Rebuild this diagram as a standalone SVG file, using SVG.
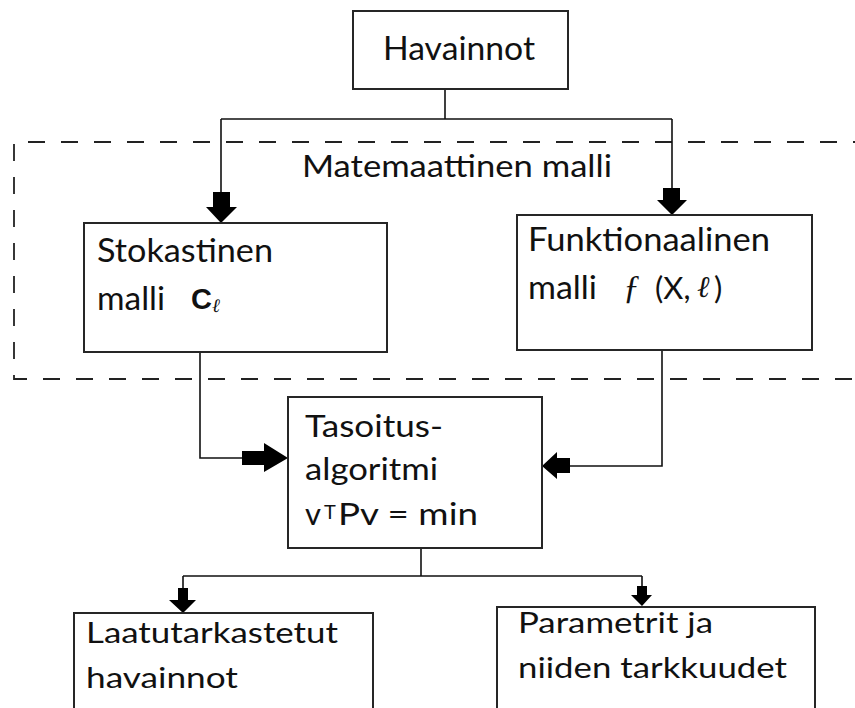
<svg xmlns="http://www.w3.org/2000/svg" width="855" height="708" viewBox="0 0 855 708">
<style>
  .box { fill: #ffffff; stroke: #262626; stroke-width: 2; }
  .ln { fill: none; stroke: #111; stroke-width: 1.6; }
  .ah { fill: #000; stroke: none; }
  .t { font-family: Lato, "Open Sans", "Liberation Sans", sans-serif; fill: #111; }
  .dash { fill: none; stroke: #222; stroke-width: 1.8; stroke-dasharray: 17 16; }
</style>
<rect x="0" y="0" width="855" height="708" fill="#ffffff"/>

<g id="group-matemaattinen">
  <path class="dash" d="M 870 142 H 14 V 379 H 870"/>
  <text class="t" x="302" y="177" font-size="30" textLength="310" lengthAdjust="spacingAndGlyphs">Matemaattinen malli</text>
</g>

<g id="connectors">
  <path class="ln" d="M 445 89 V 119 M 221 119 H 672 M 221 119 V 193 M 672 119 V 189"/>
  <polygon class="ah" points="213,192 230,192 230,207 237,207 221,223 206,207 213,207"/>
  <polygon class="ah" points="663,188 680,188 680,200 687,200 672,215 657,200 663,200"/>
  <path class="ln" d="M 200 352 V 458 H 243"/>
  <polygon class="ah" points="242,451 264,451 264,443 288,458 264,472 264,465 242,465"/>
  <path class="ln" d="M 662 350 V 466 H 569"/>
  <polygon class="ah" points="570,458 557,458 557,452 542,466 557,479 557,473 570,473"/>
  <path class="ln" d="M 421 548 V 576 M 183 576 H 642 M 183 576 V 589 M 642 576 V 587"/>
  <polygon class="ah" points="178,588 188,588 188,600 196,600 183,613 169,600 178,600"/>
  <polygon class="ah" points="637,586 647,586 647,595 652,595 642,606 631,595 637,595"/>
</g>

<g id="node-havainnot">
  <rect class="box" x="353" y="11" width="215" height="78"/>
  <text class="t" x="383" y="60" font-size="33" textLength="152" lengthAdjust="spacingAndGlyphs">Havainnot</text>
</g>

<g id="node-stokastinen">
  <rect class="box" x="84" y="223" width="303" height="129"/>
  <text class="t" x="97" y="262" font-size="32" textLength="176" lengthAdjust="spacingAndGlyphs">Stokastinen</text>
  <text class="t" x="97" y="310" font-size="32" textLength="68" lengthAdjust="spacingAndGlyphs">malli</text>
  <text x="191" y="309" font-family="'Liberation Sans', Arial, sans-serif" font-size="29" font-weight="bold" fill="#111">C</text>
  <text x="212" y="312" font-family="'Liberation Serif', serif" font-size="19" font-style="italic" fill="#111">ℓ</text>
</g>

<g id="node-funktionaalinen">
  <rect class="box" x="517" y="215" width="295" height="135"/>
  <text class="t" x="528" y="251" font-size="32" textLength="242" lengthAdjust="spacingAndGlyphs">Funktionaalinen</text>
  <text class="t" x="528" y="299" font-size="32" textLength="69" lengthAdjust="spacingAndGlyphs">malli</text>
  <text x="623" y="298" font-family="'Liberation Serif', serif" font-size="34" font-style="italic" fill="#111">ƒ</text>
  <text class="t" x="655" y="299" font-size="31">(X,</text>
  <text x="697" y="297" font-family="'Liberation Serif', serif" font-size="30" font-style="italic" fill="#111">ℓ</text>
  <text class="t" x="714" y="299" font-size="31">)</text>
</g>

<g id="node-tasoitus">
  <rect class="box" x="288" y="397" width="254" height="151"/>
  <text class="t" x="305" y="437" font-size="31" textLength="138" lengthAdjust="spacingAndGlyphs">Tasoitus-</text>
  <text class="t" x="305" y="480" font-size="31" textLength="133" lengthAdjust="spacingAndGlyphs">algoritmi</text>
  <text class="t" x="305" y="525" font-size="31">v</text>
  <text class="t" x="324" y="519" font-size="20">T</text>
  <text class="t" x="338" y="525" font-size="31" textLength="140" lengthAdjust="spacingAndGlyphs">Pv = min</text>
</g>

<g id="node-laatutarkastetut">
  <rect class="box" x="74" y="613" width="299" height="110"/>
  <text class="t" x="86" y="643" font-size="29" textLength="252" lengthAdjust="spacingAndGlyphs">Laatutarkastetut</text>
  <text class="t" x="86" y="688" font-size="29" textLength="152" lengthAdjust="spacingAndGlyphs">havainnot</text>
</g>

<g id="node-parametrit">
  <rect class="box" x="497" y="607" width="318" height="116"/>
  <text class="t" x="518" y="633" font-size="29" textLength="195" lengthAdjust="spacingAndGlyphs">Parametrit ja</text>
  <text class="t" x="518" y="678" font-size="29" textLength="269" lengthAdjust="spacingAndGlyphs">niiden tarkkuudet</text>
</g>
</svg>
